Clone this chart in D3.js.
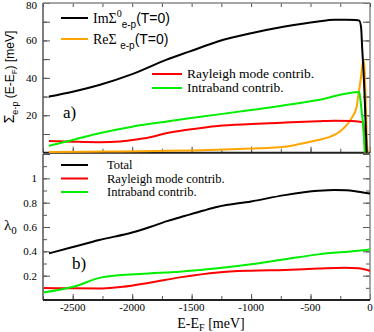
<!DOCTYPE html>
<html lang="en">
<head>
  <meta charset="UTF-8">
  <title>Self-energy and coupling</title>
  <script src="https://d3js.org/d3.v7.min.js"></script>
  <style>
    body { margin: 0; background: #fff; }
    text { font-family: "Liberation Serif", "DejaVu Serif", serif; }
    text.sans, tspan.sans { font-family: "Liberation Sans", Arial, sans-serif; }
  </style>
</head>
<body>
  <script>
    // 1. Data  [E - E_F (meV), value]
    const imSigma = [[-2700,30],[-2500,32.6],[-2277,36.2],[-2000,42],[-1715,49.6],[-1520,54],
      [-1280,59.4],[-1000,63.8],[-717,67.4],[-436,70.1],[-300,71],[-200,71.1],[-120,70.9],
      [-90,70.6],[-75,67],[-65,55],[-55,44],[-45,30],[-35,12],[-27,0]];
    const reSigma = [[-2700,0.4],[-2200,0.6],[-1800,0.9],[-1500,1.2],[-1000,2.2],[-717,3.2],
      [-500,5.9],[-436,6.8],[-300,9.5],[-250,11.5],[-180,16],[-150,19],[-112,24.6],[-100,30],
      [-85,36],[-72,42.5],[-62,47.5],[-56,49.6],[-50,48],[-43,41],[-36,28],[-30,14],[-25,5],
      [-20,1],[-16,0]];
    const rayleighSigma = [[-2700,6.3],[-2500,5.9],[-2277,5.6],[-2100,6],[-1996,6.8],[-1850,8.3],
      [-1715,10.4],[-1520,12.4],[-1280,14.3],[-1000,15.3],[-717,16.1],[-436,16.8],[-300,17.1],
      [-150,17],[-58,16.3],[-52,12],[-46,6],[-40,2],[-34,0]];
    const intraSigma = [[-2700,3.7],[-2500,6.8],[-2277,10.4],[-2000,13.9],[-1715,16.6],[-1520,18.4],
      [-1000,22.8],[-436,28.2],[-90,32.5],[-84,30],[-70,22],[-58,15],[-50,8],[-44,0]];

    const lamTotal = [[-2700,0.383],[-2507,0.433],[-2277,0.493],[-2000,0.555],[-1850,0.6],
      [-1700,0.65],[-1560,0.69],[-1400,0.735],[-1280,0.766],[-1000,0.81],[-717,0.862],
      [-436,0.898],[-300,0.905],[-200,0.902],[-99,0.89],[0,0.876]];
    const lamRayleigh = [[-2760,0.098],[-2500,0.096],[-2250,0.095],[-2080,0.108],[-1855,0.142],
      [-1600,0.186],[-1280,0.227],[-1000,0.241],[-717,0.247],[-436,0.258],[-211,0.265],
      [-99,0.26],[0,0.24]];
    const lamIntra = [[-2760,0.06],[-2494,0.109],[-2256,0.186],[-1934,0.214],[-1602,0.233],
      [-1280,0.26],[-1000,0.293],[-717,0.334],[-436,0.375],[-99,0.405],[0,0.416]];

    const xTicks = [-2500, -2000, -1500, -1000, -500, 0];
    const sigmaTicks = [20, 40, 60, 80];
    const lambdaTicks = [0.2, 0.4, 0.6, 0.8, 1];

    // 2. SVG
    const width = 374, height = 332;
    const svg = d3.select("body").append("svg")
      .attr("width", width).attr("height", height);

    // 3. Scales
    const x = d3.scaleLinear().domain([-2750, 0]).range([43, 370]);
    const yTop = d3.scaleLinear().domain([0, 80]).range([152.7, 3]);
    const yBot = d3.scaleLinear().domain([0, 1.2]).range([300, 154]);

    const xMinor = d3.range(-2750, 1, 250);

    function drawPanel(y, majors, minors, labels, fmt) {
      const g = svg.append("g");
      const [x0, x1] = x.range();
      const [yb, yt] = y.range();
      // bottom ticks
      g.append("g").attr("transform", `translate(0,${yb})`)
        .call(d3.axisBottom(x).tickValues(xMinor).tickSize(-4).tickFormat(""))
        .call(a => a.select(".domain").remove());
      g.append("g").attr("transform", `translate(0,${yb})`)
        .call(d3.axisBottom(x).tickValues(xTicks).tickSize(-6).tickFormat(""))
        .call(a => a.select(".domain").remove());
      // left ticks
      g.append("g").attr("transform", `translate(${x0},0)`)
        .call(d3.axisLeft(y).tickValues(minors).tickSize(-4).tickFormat(""))
        .call(a => a.select(".domain").remove());
      g.append("g").attr("transform", `translate(${x0},0)`)
        .call(d3.axisLeft(y).tickValues(majors).tickSize(-7).tickFormat(""))
        .call(a => a.select(".domain").remove());
      // right ticks
      g.append("g").attr("transform", `translate(${x1},0)`)
        .call(d3.axisRight(y).tickValues(minors).tickSize(-4).tickFormat(""))
        .call(a => a.select(".domain").remove());
      g.append("g").attr("transform", `translate(${x1},0)`)
        .call(d3.axisRight(y).tickValues(majors).tickSize(-7).tickFormat(""))
        .call(a => a.select(".domain").remove());
      g.selectAll(".tick line").attr("stroke", "#555");
      // frame
      g.append("line").attr("x1", x1).attr("x2", x1).attr("y1", yt).attr("y2", yb)
        .attr("stroke", "#888").attr("stroke-width", 1.5);
      g.append("line").attr("x1", x0).attr("x2", x0).attr("y1", yt).attr("y2", yb)
        .attr("stroke", "#555").attr("stroke-width", 1.5);
      g.append("line").attr("x1", x0).attr("x2", x1).attr("y1", yb).attr("y2", yb)
        .attr("stroke", "#222").attr("stroke-width", 2);
      // labels
      g.selectAll(".ylab").data(labels).join("text")
        .attr("x", 37).attr("y", d => Math.max(y(d) + 4, 9))
        .attr("text-anchor", "end").attr("font-size", 11)
        .text(fmt);
      return g;
    }

    const panelA = drawPanel(yTop, d3.range(10, 81, 10), d3.range(10, 81, 10), sigmaTicks, d => d);
    // top frame with ticks for panel a
    panelA.append("g").attr("transform", "translate(0,3)")
      .call(d3.axisTop(x).tickValues(xMinor).tickSize(-4).tickFormat(""))
      .call(a => a.select(".domain").remove())
      .selectAll("line").attr("stroke", "#555");
    panelA.append("line").attr("x1", 43).attr("x2", 370).attr("y1", 3).attr("y2", 3)
      .attr("stroke", "#888").attr("stroke-width", 1.5);

    drawPanel(yBot, d3.range(0.2, 1.21, 0.2), d3.range(0.1, 1.21, 0.1), lambdaTicks,
      d => d === 1 ? "1" : d3.format(".1f")(d));

    // x tick labels
    svg.selectAll(".xlab").data(xTicks).join("text")
      .attr("x", x).attr("y", 311)
      .attr("text-anchor", "middle").attr("font-size", 11)
      .text(d => d);

    // 4. Curves
    svg.append("clipPath").attr("id", "clipTop").append("rect")
      .attr("x", 43).attr("y", 3).attr("width", 327).attr("height", 150);
    svg.append("clipPath").attr("id", "clipBot").append("rect")
      .attr("x", 44).attr("y", 154).attr("width", 326).attr("height", 146);

    const lineTop = d3.line().x(d => x(d[0])).y(d => yTop(d[1])).curve(d3.curveMonotoneX);
    const lineBot = d3.line().x(d => x(d[0])).y(d => yBot(d[1])).curve(d3.curveMonotoneX);

    const topCurves = [
      { data: reSigma, color: "#ffa500" },
      { data: rayleighSigma, color: "#ff0000" },
      { data: intraSigma, color: "#00ee00" },
      { data: imSigma, color: "#000000" }
    ];
    svg.append("g").attr("clip-path", "url(#clipTop)")
      .selectAll("path").data(topCurves).join("path")
      .attr("d", d => lineTop(d.data))
      .attr("fill", "none").attr("stroke", d => d.color).attr("stroke-width", 2);

    const botCurves = [
      { data: lamTotal, color: "#000000" },
      { data: lamRayleigh, color: "#ff0000" },
      { data: lamIntra, color: "#00ee00" }
    ];
    svg.append("g").attr("clip-path", "url(#clipBot)")
      .selectAll("path").data(botCurves).join("path")
      .attr("d", d => lineBot(d.data))
      .attr("fill", "none").attr("stroke", d => d.color).attr("stroke-width", 2);

    // 5. Legends
    function legendLine(x1, x2, y, color) {
      svg.append("line").attr("x1", x1).attr("x2", x2).attr("y1", y).attr("y2", y)
        .attr("stroke", color).attr("stroke-width", 2);
    }
    legendLine(61, 88, 18, "#000");
    legendLine(61, 88, 39, "#ffa500");
    const im = svg.append("text").attr("x", 93).attr("y", 23).attr("font-size", 14);
    im.append("tspan").text("ImΣ");
    im.append("tspan").attr("dy", -6).attr("font-size", 10).text("0");
    im.append("tspan").attr("class", "sans").attr("dy", 11).attr("font-size", 10).text("e-p");
    im.append("tspan").attr("class", "sans").attr("dy", -5).text("(T=0)");
    const re = svg.append("text").attr("x", 93).attr("y", 44).attr("font-size", 14);
    re.append("tspan").text("ReΣ ");
    re.append("tspan").attr("class", "sans").attr("dy", 5).attr("font-size", 10).text("e-p");
    re.append("tspan").attr("class", "sans").attr("dy", -5).text("(T=0)");

    legendLine(152, 182, 74, "#ff0000");
    legendLine(152, 182, 88, "#00ee00");
    svg.append("text").attr("x", 187).attr("y", 78).attr("font-size", 13.5).text("Rayleigh mode contrib.");
    svg.append("text").attr("x", 187).attr("y", 92).attr("font-size", 13.5).text("Intraband contrib.");

    const botLegend = [["Total", "#000"], ["Rayleigh mode contrib.", "#ff0000"], ["Intraband contrib.", "#00ee00"]];
    botLegend.forEach((d, i) => {
      legendLine(61, 88, 165 + i * 13.5, d[1]);
      svg.append("text").attr("x", 107).attr("y", 169 + i * 13.5).attr("font-size", 12.5).text(d[0]);
    });

    // 6. Panel labels and titles
    svg.append("text").attr("x", 63).attr("y", 118).attr("font-size", 17).text("a)");
    svg.append("text").attr("x", 72).attr("y", 269).attr("font-size", 17).text("b)");

    const lam = svg.append("text").attr("x", 4).attr("y", 230).attr("font-size", 15);
    lam.append("tspan").text("λ");
    lam.append("tspan").attr("dy", 4).attr("font-size", 11).text("0");

    const yt = svg.append("text").attr("class", "sans")
      .attr("transform", "translate(14,77) rotate(-90)")
      .attr("text-anchor", "middle").attr("font-size", 12);
    yt.append("tspan").attr("font-size", 14).text("Σ");
    yt.append("tspan").attr("dy", 4).attr("font-size", 9).text("e-p");
    yt.append("tspan").attr("dy", -4).text(" (E-E");
    yt.append("tspan").attr("dy", 3).attr("font-size", 8).text("F");
    yt.append("tspan").attr("dy", -3).text(") [meV]");

    const xt = svg.append("text").attr("x", 211).attr("y", 328)
      .attr("text-anchor", "middle").attr("font-size", 14);
    xt.append("tspan").text("E-E");
    xt.append("tspan").attr("dy", 3).attr("font-size", 10).text("F");
    xt.append("tspan").attr("dy", -3).text(" [meV]");
  </script>
</body>
</html>
